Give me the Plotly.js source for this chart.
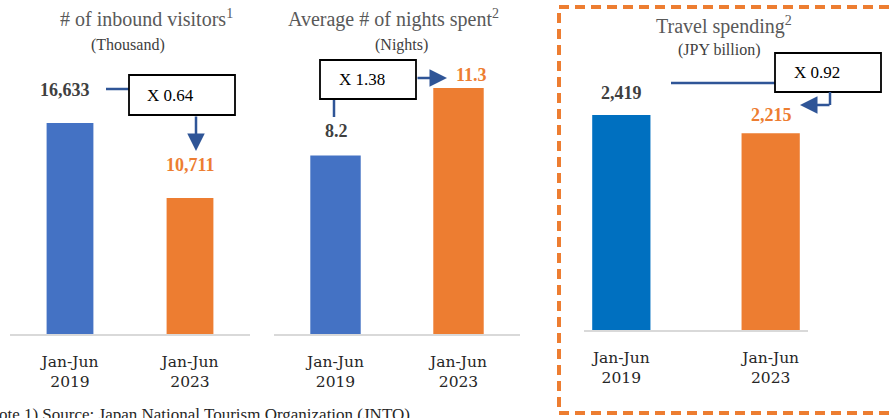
<!DOCTYPE html>
<html>
<head>
<meta charset="utf-8">
<script src="https://cdn.plot.ly/plotly-3.0.1.min.js"></script>
<style>html,body{margin:0;padding:0;background:#fff;}#chart{width:891px;height:418px;}</style>
</head>
<body>
<div id="chart"></div>
<script>
// ---- data ----
var periods = ["Jan-Jun<br>2019", "Jan-Jun<br>2023"];
var visitors = [16633, 10711];          // thousand
var nights = [8.2, 11.3];               // nights
var spending = [2419, 2215];            // JPY billion
var visitorLabels = ["16,633", "10,711"];
var nightLabels = ["8.2", "11.3"];
var spendingLabels = ["2,419", "2,215"];
var ratioLabels = ["X 0.64", "X 1.38", "X 0.92"];
var titles = ["# of inbound visitors<sup>1</sup>", "Average # of nights spent<sup>2</sup>", "Travel spending<sup>2</sup>"];
var units = ["(Thousand)", "(Nights)", "(JPY billion)"];
var footnote = "(Note 1) Source: Japan National Tourism Organization (JNTO)";

// ---- geometry helpers ----
var W = 891, H = 418;
function px(x){ return x / W; }
function py(y){ return 1 - y / H; }
var SERIF = "Liberation Serif, Times New Roman, serif";
var WSERIF = "DejaVu Serif, serif";
var ARROW = "#2F5597";
var ORANGE = "#ED7D31";
var DARK = "#404040";

function yRange(v, basePx, topPx, valTopPx){
  return [0, v * (basePx - topPx) / (basePx - valTopPx)];
}

var traces = [
  {type:"bar", x:[0,1], y:visitors, xaxis:"x", yaxis:"y", width:0.39,
   marker:{color:["#4472C4", ORANGE]}, hoverinfo:"none"},
  {type:"bar", x:[0,1], y:nights, xaxis:"x2", yaxis:"y2", width:0.41,
   marker:{color:["#4472C4", ORANGE]}, hoverinfo:"none"},
  {type:"bar", x:[0,1], y:spending, xaxis:"x3", yaxis:"y3", width:0.39,
   marker:{color:["#0070C0", ORANGE]}, hoverinfo:"none"}
];

function xax(d0, d1, range, anchor){
  return {domain:[px(d0), px(d1)], range:range, type:"linear", anchor:anchor,
    tickmode:"array", tickvals:[0,1], ticktext:periods, showline:true,
    linecolor:"#D9D9D9", linewidth:2, showgrid:false, zeroline:false, ticks:"",
    ticklabeloverflow:"allow",
    tickfont:{family:WSERIF, size:15.5, color:"#262626"}, ticklabelstandoff:12, fixedrange:true};
}
function yax(top, base, range, anchor){
  return {domain:[py(base), py(top)], range:range, anchor:anchor, visible:false, showgrid:false, zeroline:false, fixedrange:true};
}

var layout = {
  width:W, height:H, margin:{l:0, r:0, t:0, b:0},
  paper_bgcolor:"#fff", plot_bgcolor:"rgba(0,0,0,0)", showlegend:false,
  font:{family:SERIF},
  xaxis: xax(10, 250, [-0.5, 1.5], "y"),
  yaxis: yax(20, 334, yRange(visitors[0], 334, 20, 123), "x"),
  xaxis2: xax(274, 520, [-0.5, 1.5], "y2"),
  yaxis2: yax(20, 334, yRange(nights[1], 334, 20, 88), "x2"),
  xaxis3: xax(584, 808, [-0.25, 1.25], "y3"),
  yaxis3: yax(20, 330, yRange(spending[0], 330, 20, 115), "x3"),
  shapes: [],
  annotations: []
};

var A = layout.annotations, S = layout.shapes;

// titles
var titlePos = [[146, 18, 128, 45], [393, 18, 401, 45], [724, 26, 719, 50]];
for (var i = 0; i < 3; i++) {
  A.push({xref:"paper", yref:"paper", x:px(titlePos[i][0]), y:py(titlePos[i][1]), xanchor:"center", yanchor:"middle",
    text:titles[i], showarrow:false, font:{family:SERIF, size:20, color:"#595959"}});
  A.push({xref:"paper", yref:"paper", x:px(titlePos[i][2]), y:py(titlePos[i][3]), xanchor:"center", yanchor:"middle",
    text:units[i], showarrow:false, font:{family:SERIF, size:16, color:"#404040"}});
}

// value labels
function valLabel(xr, yr, xi, v, txt, color, shiftY, shiftX){
  A.push({xref:xr, yref:yr, x:xi, y:v, xanchor:"center", yanchor:"middle",
    yshift:shiftY, xshift:shiftX||0, text:"<b>"+txt+"</b>", showarrow:false,
    font:{family:SERIF, size:18, color:color}});
}
valLabel("x","y",0,visitors[0],visitorLabels[0],DARK,33,-5);
valLabel("x","y",1,visitors[1],visitorLabels[1],ORANGE,33,0);
valLabel("x2","y2",0,nights[0],nightLabels[0],DARK,24,1);
valLabel("x2","y2",1,nights[1],nightLabels[1],ORANGE,13,13);
valLabel("x3","y3",0,spending[0],spendingLabels[0],DARK,22,0);
valLabel("x3","y3",1,spending[1],spendingLabels[1],ORANGE,18,1);

function line(x0,y0,x1,y1){
  S.push({type:"line", xref:"paper", yref:"paper", x0:px(x0), y0:py(y0), x1:px(x1), y1:py(y1),
    line:{color:ARROW, width:2.5}});
}
function box(x0,y0,x1,y1,txt,tx){
  S.push({type:"rect", xref:"paper", yref:"paper", x0:px(x0), y0:py(y0), x1:px(x1), y1:py(y1),
    line:{color:"#000", width:1.8}, fillcolor:"#fff", layer:"above"});
  A.push({xref:"paper", yref:"paper", x:px(tx), y:py((y0+y1)/2), xanchor:"center", yanchor:"middle",
    text:txt, showarrow:false, font:{family:SERIF, size:17, color:"#000"}});
}
function arrow(x0,y0,x1,y1){
  A.push({xref:"paper", yref:"paper", x:px(x1), y:py(y1), ax:px(x0), ay:py(y0), axref:"paper", ayref:"paper",
    text:"", showarrow:true, arrowhead:2, arrowsize:1.4, arrowwidth:2.5, arrowcolor:ARROW});
}

// panel 1
line(106, 89, 129, 89);
box(129, 75, 235, 115, ratioLabels[0], 170);
arrow(196, 115, 196, 151);
// panel 2
line(334, 99, 334, 117);
box(320, 60, 416, 99, ratioLabels[1], 362);
arrow(416, 78, 447, 78);
// panel 3
line(671, 83, 775, 83);
box(775, 53, 881, 92, ratioLabels[2], 817);
line(830, 92, 830, 105);
arrow(831, 105, 800, 105);

// dashed highlight frame
S.push({type:"rect", xref:"paper", yref:"paper", x0:px(559), y0:py(7), x1:px(905), y1:py(413),
  line:{color:ORANGE, width:4, dash:"10px,6px"}, fillcolor:"rgba(0,0,0,0)"});

// footnote
A.push({xref:"paper", yref:"paper", x:px(-21), y:py(414), xanchor:"left", yanchor:"middle",
  text:footnote, showarrow:false, font:{family:SERIF, size:17, color:"#262626"}});

Plotly.newPlot("chart", traces, layout, {staticPlot:true, displayModeBar:false});
</script>
</body>
</html>
